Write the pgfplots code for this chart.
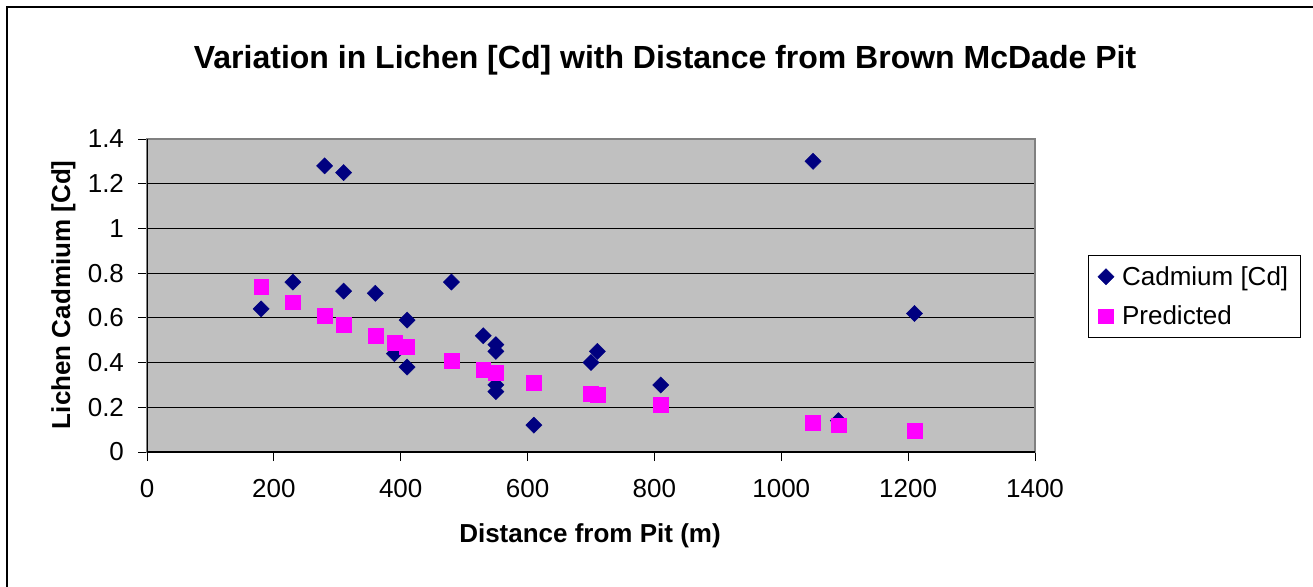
\documentclass[border=0pt]{standalone}
\usepackage{pgfplots}
\pgfplotsset{compat=1.18}
\usepackage{fontspec}
\setmainfont{Liberation Sans}
\definecolor{plotbg}{RGB}{192,192,192}
\definecolor{cdnavy}{RGB}{0,0,128}
\definecolor{predmag}{RGB}{255,0,255}
\begin{document}
\begin{tikzpicture}
\useasboundingbox (0pt,0pt) rectangle (984.75pt,-439.5pt);
\draw[black,line width=1pt] (5.25pt,-5.25pt) rectangle (1000pt,-460pt);
\begin{axis}[
  at={(110.25pt,-339pt)}, anchor=south west,
  scale only axis, width=666pt, height=234.75pt,
  xmin=0, xmax=1400, ymin=0, ymax=1.4,
  xtick={0,200,...,1400}, ytick={0,0.2,...,1.4},
  /pgf/number format/1000 sep={},
  /pgf/number format/assume math mode=true,
  tick label style={font=\fontsize{19.5}{23}\selectfont},
  yticklabel style={xshift=-7pt},
  xticklabel style={yshift=-10pt},
  tick pos=left, tick align=outside, major tick length=6.75pt,
  tick style={black, line width=0.75pt},
  ymajorgrids, grid style={black, line width=0.75pt},
  axis line style={draw=gray!100!black, line width=1pt},
  axis background/.style={fill=plotbg},
  legend style={at={(rel axis cs:1.0597,0.629)}, anchor=north west,
    draw=black, line width=0.75pt, font=\fontsize{19.5}{23}\selectfont,
    inner xsep=7pt, inner ysep=6pt, row sep=10pt, cells={anchor=west},
    /tikz/every odd column/.append style={column sep=4pt}},
  legend image code/.code={\draw[#1] plot coordinates {(0.25cm,0cm)};},
]
\addplot[only marks, mark=square*, mark size=4.3pt, mark options={rotate=45, fill=cdnavy, draw=cdnavy, line width=0.3pt}] coordinates {
(180,0.64) (230,0.76) (280,1.28) (310,1.25) (310,0.72) (360,0.71)
(390,0.44) (410,0.59) (410,0.38) (480,0.76) (530,0.52) (550,0.48)
(550,0.45) (550,0.30) (550,0.27) (610,0.12) (700,0.40) (710,0.45)
(810,0.30) (1050,1.30) (1090,0.14) (1210,0.62)
};
\addlegendentry{Cadmium [Cd]}
\addplot[only marks, mark=square*, mark size=5.6pt, mark options={fill=predmag, draw=predmag, line width=0.3pt}] coordinates {
(180,0.74) (230,0.67) (280,0.61) (310,0.57) (360,0.52) (390,0.49)
(410,0.47) (480,0.41) (530,0.37) (550,0.355) (610,0.31) (700,0.26)
(710,0.255) (810,0.21) (1050,0.13) (1090,0.12) (1210,0.095)
};
\addlegendentry{Predicted}
\draw[black, line width=1pt] (rel axis cs:0,0) -- (rel axis cs:1,0);
\draw[black, line width=1pt] (rel axis cs:0,0) -- (rel axis cs:0,1);
\end{axis}
\node[anchor=base, font=\fontsize{24}{29}\selectfont\bfseries] at (498.75pt,-51pt) {Variation in Lichen [Cd] with Distance from Brown McDade Pit};
\node[anchor=base, font=\fontsize{19.5}{23}\selectfont\bfseries] at (442.5pt,-407pt) {Distance from Pit (m)};
\node[anchor=base, rotate=90, font=\fontsize{19.5}{23}\selectfont\bfseries] at (52.5pt,-221pt) {Lichen Cadmium [Cd]};
\end{tikzpicture}
\end{document}
